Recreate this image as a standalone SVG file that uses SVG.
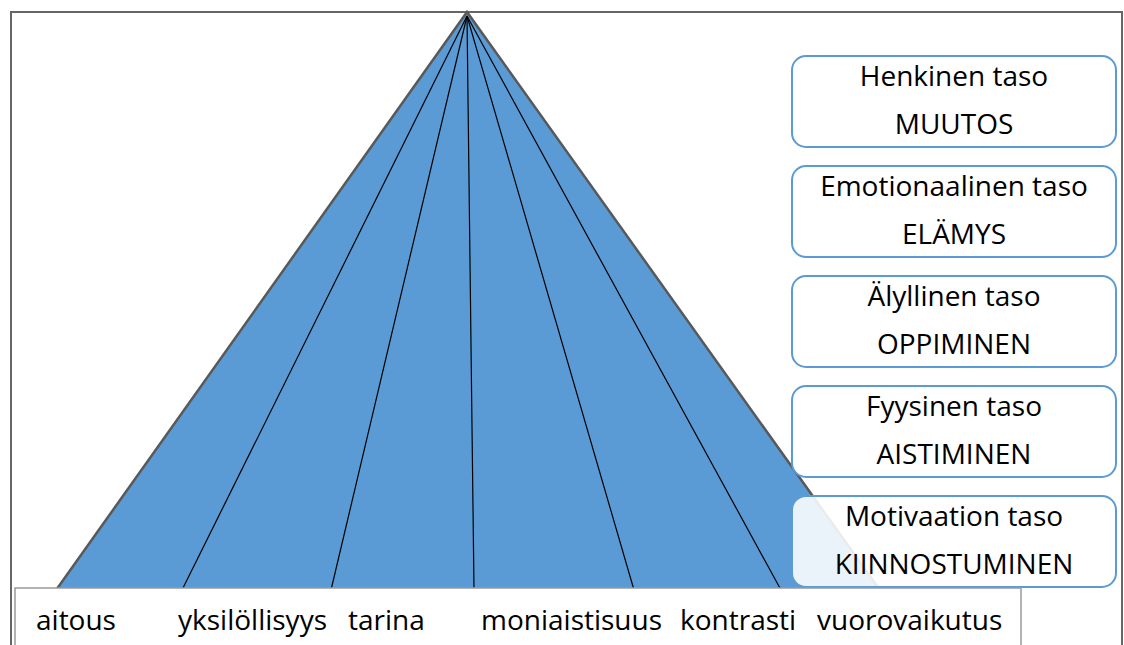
<svg xmlns="http://www.w3.org/2000/svg" width="1124" height="645" viewBox="0 0 1124 645">
<style>
.t{font-family:"Open Sans","Liberation Sans",sans-serif;font-size:28px;fill:#000}
.c{text-anchor:middle}
.box{stroke:#5B9BD5;stroke-width:2;fill:#fff}
.ray{stroke:#000;stroke-width:1.2;fill:none}
</style>
<rect x="0" y="0" width="1124" height="645" fill="#fff"/>
<rect id="frame" x="11" y="12" width="1111" height="645" fill="#fff" stroke="#666" stroke-width="2"/>
<g id="pyramid">
<polygon points="467,12 49,600 887,600" fill="#5B9BD5" stroke="#595959" stroke-width="2.5" stroke-linejoin="miter"/>
</g>
<g id="connectors">
<line class="ray" x1="467" y1="16" x2="182" y2="590"/>
<line class="ray" x1="467" y1="16" x2="331" y2="590"/>
<line class="ray" x1="467" y1="16" x2="474" y2="590"/>
<line class="ray" x1="467" y1="16" x2="634" y2="590"/>
<line class="ray" x1="467" y1="16" x2="781" y2="590"/>
</g>
<g id="henkinen">
<rect class="box" x="792" y="56" width="324" height="91" rx="14"/>
<text class="t c" x="954" y="86">Henkinen taso</text>
<text class="t c" x="954" y="134">MUUTOS</text>
</g>
<g id="emotionaalinen">
<rect class="box" x="792" y="166" width="324" height="91" rx="14"/>
<text class="t c" x="954" y="196">Emotionaalinen taso</text>
<text class="t c" x="954" y="244">ELÄMYS</text>
</g>
<g id="alyllinen">
<rect class="box" x="792" y="276" width="324" height="91" rx="14"/>
<text class="t c" x="954" y="306">Älyllinen taso</text>
<text class="t c" x="954" y="354">OPPIMINEN</text>
</g>
<g id="fyysinen">
<rect class="box" x="792" y="386" width="324" height="91" rx="14"/>
<text class="t c" x="954" y="416">Fyysinen taso</text>
<text class="t c" x="954" y="464">AISTIMINEN</text>
</g>
<g id="motivaation">
<rect class="box" x="792" y="496" width="324" height="91" rx="14" fill-opacity="0.88"/>
<text class="t c" x="954" y="526">Motivaation taso</text>
<text class="t c" x="954" y="574">KIINNOSTUMINEN</text>
</g>
<g id="labels">
<rect x="15" y="588" width="1006" height="70" fill="#fff" stroke="#999" stroke-width="1.5"/>
<text class="t" x="36" y="630">aitous</text>
<text class="t" x="178" y="630">yksilöllisyys</text>
<text class="t" x="348" y="630">tarina</text>
<text class="t" x="481" y="630">moniaistisuus</text>
<text class="t" x="680" y="630">kontrasti</text>
<text class="t" x="817" y="630">vuorovaikutus</text>
</g>
</svg>
